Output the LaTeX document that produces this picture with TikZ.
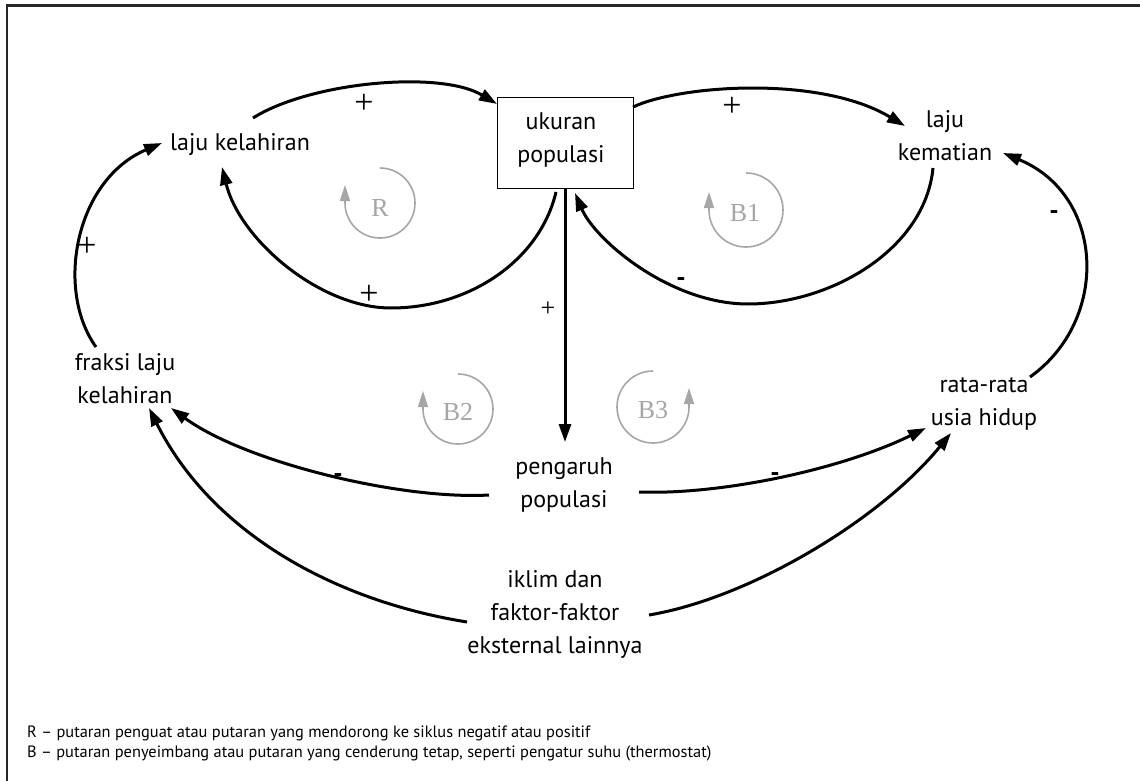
\documentclass[tikz,border=0pt]{standalone}
\usepackage{fontspec}
\setmainfont{PT Sans}
\newfontfamily\loopfont{Liberation Serif}
\usetikzlibrary{arrows.meta}
\definecolor{loopgray}{RGB}{166,166,166}
\begin{document}
\begin{tikzpicture}[x=1pt,y=-1pt,
  lbl/.style={font=\fontsize{24}{33}\selectfont, align=center, inner sep=0pt},
  link/.style={line width=3pt, -{Triangle[length=18pt,width=12pt]}},
  loopar/.style={line width=1.6pt, draw=loopgray, -{Triangle[length=16pt,width=10pt]}, fill=none},
  looplbl/.style={font=\loopfont\fontsize{26}{26}\selectfont, text=loopgray, inner sep=0pt},
  plussign/.style={font=\loopfont\fontsize{34}{34}\selectfont, inner sep=0pt},
  plussmall/.style={font=\loopfont\fontsize{26}{26}\selectfont, inner sep=0pt},
  minussign/.style={font=\bfseries\fontsize{26}{26}\selectfont, inner sep=0pt},
  note/.style={font=\fontsize{16.4}{20}\selectfont, anchor=base west, inner sep=0pt}]
\useasboundingbox (0,0) rectangle (1140,781);
\fill[white] (0,0) rectangle (1140,781);
% frame (cropped: only top and left visible)
\draw[line width=2.5pt, black!85] (1140,5.5) -- (7,5.5) -- (7,781);

% nodes
\node[draw, line width=1pt, minimum width=136pt, minimum height=90pt, lbl] (up) at (565,143) {};
\node[lbl] (uptxt) at (561,140) {ukuran\\populasi};
\node[lbl] (lk) at (240,145) {laju kelahiran};
\node[lbl] (lm) at (945,136) {laju\\kematian};
\node[lbl] (fk) at (125,379) {fraksi laju\\kelahiran};
\node[lbl] (ru) at (984,404) {rata-rata\\usia hidup};
\node[lbl] (pp) at (564,485) {pengaruh\\populasi};
\node[lbl] (ik) at (555,614) {iklim dan\\faktor-faktor\\eksternal lainnya};

% connector end points
\coordinate (lk-o) at (253,118);
\coordinate (up-i1) at (497,104);
\coordinate (up-o1) at (633,107);
\coordinate (lm-i) at (905,126);
\coordinate (up-o2) at (556,192);
\coordinate (lk-i1) at (222,167);
\coordinate (bot1) at (391,308);
\coordinate (lm-o) at (933,168);
\coordinate (up-i2) at (575,193);
\coordinate (bot2) at (748,304);
\coordinate (fk-o) at (96,347);
\coordinate (lk-i2) at (162,143);
\coordinate (ru-o) at (1030,377);
\coordinate (lm-i2) at (1003,153);
\coordinate (pp-o1) at (489,495);
\coordinate (fk-i1) at (171,408);
\coordinate (ik-o1) at (467,622);
\coordinate (fk-i2) at (149,408);
\coordinate (pp-o2) at (639,492);
\coordinate (ru-i1) at (926,428);
\coordinate (ik-o2) at (649,615);
\coordinate (ru-i2) at (951,433);

% connectors
\draw[link] (lk-o) .. controls (310,82) and (440,70) .. (up-i1);
\draw[link] (up-o1) .. controls (680,85) and (820,75) .. (lm-i);
\draw[link] (up-o2) .. controls (540,260) and (470,308) .. (bot1)
                    .. controls (320,308) and (240,240) .. (lk-i1);
\draw[link] (lm-o) .. controls (925,250) and (830,304) .. (bot2)
                   .. controls (670,304) and (595,240) .. (up-i2);
\draw[link] (fk-o) .. controls (55,290) and (75,180) .. (lk-i2);
\draw[link] (ru-o) .. controls (1110,320) and (1105,195) .. (lm-i2);
\draw[link] (up.south) -- (565,442) coordinate (pp-i);
\draw[link] (pp-o1) .. controls (400,500) and (245,462) .. (fk-i1);
\draw[link] (ik-o1) .. controls (330,600) and (210,530) .. (fk-i2);
\draw[link] (pp-o2) .. controls (720,495) and (840,470) .. (ru-i1);
\draw[link] (ik-o2) .. controls (750,598) and (880,520) .. (ru-i2);

% polarity labels
\node[plussign] (p1) at (364,104) {+};
\node[plussign] (p2) at (369,295) {+};
\node[plussign] (p3) at (87,247) {+};
\node[plussign] (p4) at (732,107) {+};
\node[plussmall] (p5) at (548,309) {+};
\node[minussign] (m1) at (681,282) {-};
\node[minussign] (m2) at (1054,215) {-};
\node[minussign] (m3) at (338,478) {-};
\node[minussign] (m4) at (775,477) {-};

% loop markers
\draw[loopar] (380,168) arc[start angle=-90, end angle=180, radius=35] -- ++(0,-18);
\node[looplbl] (lR) at (380,208) {R};
\draw[loopar] (746,173) arc[start angle=-90, end angle=180, radius=37] -- ++(0,-18);
\node[looplbl] (lB1) at (745,213) {B1};
\draw[loopar] (458,374) arc[start angle=-90, end angle=180, radius=35] -- ++(0,-18);
\node[looplbl] (lB2) at (458,412) {B2};
\draw[loopar] (653,371) arc[start angle=-90, end angle=-360, radius=36] -- ++(0,-19);
\node[looplbl] (lB3) at (653,410) {B3};

% notes
\node[note] (n1) at (27,737) {R – putaran penguat atau putaran yang mendorong ke siklus negatif atau positif};
\node[note] (n2) at (27,757) {B – putaran penyeimbang atau putaran yang cenderung tetap, seperti pengatur suhu (thermostat)};
\end{tikzpicture}
\end{document}
